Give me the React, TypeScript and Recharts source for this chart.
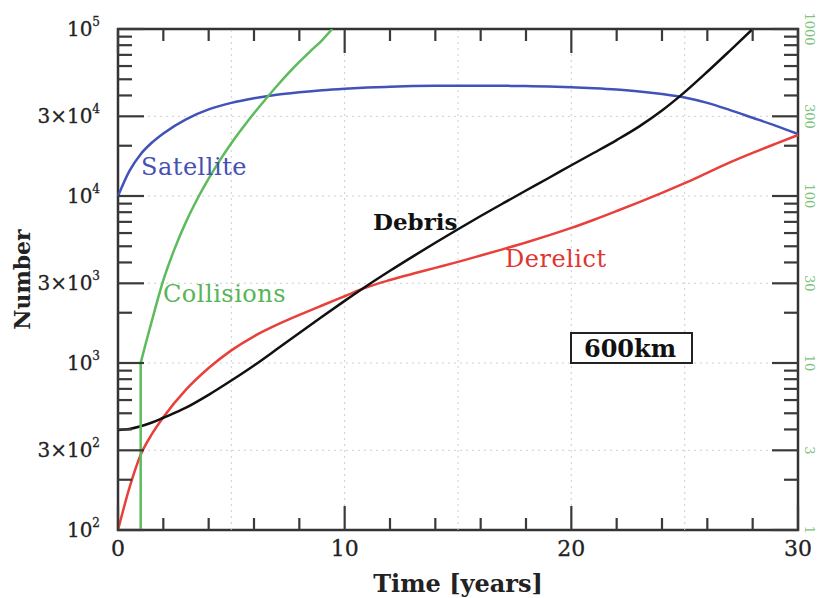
import React from 'react'
import { LineChart, Line, XAxis, YAxis, ReferenceLine, ReferenceArea } from 'recharts'

document.body.style.margin = '0'

const FONT = '"DejaVu Serif", serif'
const W = 817
const H = 598
const PLOT_W = 680
const PLOT_H = 501

// time in years
const YEARS = [0, 0.5, 1, 1.5, 2, 3, 4, 5, 6, 7, 8, 9, 10, 11, 12, 13, 14, 15, 16, 17, 18, 19, 20, 21, 22, 23, 24, 25, 26, 27, 28, 29, 30]
const SATELLITE = [10000, 14100, 17800, 20900, 23700, 28800, 33000, 36100, 38500, 40400, 41800, 43000, 43900, 44600, 45100, 45500, 45700, 45800, 45800, 45700, 45500, 45200, 44800, 44200, 43400, 42300, 40800, 38900, 36100, 32700, 29400, 26400, 23500]
const DERELICT = [100, 178, 282, 376, 473, 692, 933, 1190, 1445, 1690, 1940, 2210, 2510, 2850, 3140, 3420, 3710, 4030, 4400, 4810, 5270, 5810, 6440, 7210, 8130, 9200, 10450, 11940, 13770, 15890, 18110, 20510, 23170]
const DEBRIS_YEARS = [0, 0.5, 1, 1.5, 2, 3, 4, 5, 6, 7, 8, 9, 10, 11, 12, 13, 14, 15, 16, 17, 18, 19, 20, 21, 22, 23, 24, 25, 26, 27, 28]
const DEBRIS = [397, 403, 418, 440, 470, 540, 645, 785, 966, 1208, 1514, 1892, 2355, 2911, 3565, 4335, 5248, 6324, 7586, 9057, 10790, 12820, 15280, 18150, 21630, 26120, 32510, 41880, 55460, 74300, 100000]
// collisions, right-hand axis
const COLLISION_YEARS = [1, 1, 1.25, 1.5, 2, 2.5, 3, 3.5, 4, 4.5, 5, 5.5, 6, 6.5, 7, 7.5, 8, 8.5, 9, 9.45]
const COLLISIONS = [1, 10, 13.5, 18, 31.3, 48.4, 70, 96, 127, 164, 207, 256, 313, 378, 454, 540, 635, 739, 856, 1000]

const X_TICKS = [0, 2, 4, 6, 8, 10, 12, 14, 16, 18, 20, 22, 24, 26, 28, 30]
const X_GRID = [5, 10, 15, 20, 25]
const Y_GRID = [300, 1000, 3000, 10000, 30000]
const Y_TICKS = [100, 1000, 10000].flatMap((d) => [1, 2, 3, 4, 5, 6, 7, 8, 9].map((m) => m * d)).concat([100000])
const RIGHT_TICKS = [1, 3, 10, 30, 100, 300, 1000]

const rows = (xs: number[], ys: number[]) => xs.map((t, i) => ({ t, v: ys[i] }))

const satData = rows(YEARS, SATELLITE)
const derData = rows(YEARS, DERELICT)
const debData = rows(DEBRIS_YEARS, DEBRIS)
const collData = rows(COLLISION_YEARS, COLLISIONS)

const TICK_COLOR = '#3a3a3a'

function LeftTick({ x, y, payload }: any) {
  const v = payload.value
  const n = Math.floor(Math.log10(v) + 1e-9)
  const m = Math.round(v / Math.pow(10, n))
  const major = m === 1 || m === 3
  const len = major ? 26 : 14
  return (
    <g>
      <line x1={x} y1={y} x2={x + len} y2={y} stroke={TICK_COLOR} strokeWidth={2.2} />
      <line x1={x + PLOT_W} y1={y} x2={x + PLOT_W - len} y2={y} stroke={TICK_COLOR} strokeWidth={2.2} />
      {major && (
        <text x={x - 18} y={y + 7} textAnchor="end" fontFamily={FONT} fontSize={20} fill="#222" stroke="#222" strokeWidth={0.3}>
          <tspan>{m === 3 ? '3×10' : '10'}</tspan>
          <tspan dy={-10} fontSize={12}>{n}</tspan>
        </text>
      )}
    </g>
  )
}

function BottomTick({ x, y, payload }: any) {
  const v = payload.value
  const major = v % 10 === 0
  const len = major ? 24 : 12
  return (
    <g>
      <line x1={x} y1={y} x2={x} y2={y - len} stroke={TICK_COLOR} strokeWidth={2.2} />
      <line x1={x} y1={y - PLOT_H} x2={x} y2={y - PLOT_H + len} stroke={TICK_COLOR} strokeWidth={2.2} />
      {major && (
        <text x={x} y={y + 26} textAnchor="middle" fontFamily={FONT} fontSize={22} fill="#222" stroke="#222" strokeWidth={0.3}>
          {v}
        </text>
      )}
    </g>
  )
}

function RightTick({ x, y, payload }: any) {
  return (
    <text
      x={x + 11}
      y={y}
      transform={`rotate(90, ${x + 11}, ${y})`}
      textAnchor="middle"
      dominantBaseline="central"
      fontFamily={FONT}
      fontSize={13}
      fill="#7cc47c"
    >
      {payload.value}
    </text>
  )
}

export default function App() {
  return (
    <div style={{ position: 'relative', width: W, height: H, background: '#fff' }}>
      <LineChart width={W} height={H} margin={{ top: 29, right: 0, bottom: 0, left: 0 }}>
        <XAxis
          dataKey="t"
          type="number"
          domain={[0, 30]}
          ticks={X_TICKS}
          interval={0}
          height={68}
          axisLine={false}
          tickLine={false}
          tickSize={0}
          tickMargin={0}
          tick={<BottomTick />}
          label={{
            value: 'Time [years]',
            position: 'insideBottom',
            offset: 6,
            style: { fontFamily: FONT, fontWeight: 'bold', fontSize: 24, fill: '#222' },
          }}
        />
        <YAxis
          yAxisId="left"
          type="number"
          scale="log"
          domain={[100, 100000]}
          allowDataOverflow
          ticks={Y_TICKS}
          interval={0}
          width={118}
          axisLine={false}
          tickLine={false}
          tickSize={0}
          tickMargin={0}
          tick={<LeftTick />}
          label={{
            value: 'Number',
            angle: -90,
            position: 'insideLeft',
            offset: 22,
            style: { textAnchor: 'middle', fontFamily: FONT, fontWeight: 'bold', fontSize: 22, fill: '#222' },
          }}
        />
        <YAxis
          yAxisId="right"
          orientation="right"
          type="number"
          scale="log"
          domain={[1, 1000]}
          allowDataOverflow
          ticks={RIGHT_TICKS}
          interval={0}
          width={19}
          axisLine={false}
          tickLine={false}
          tickSize={0}
          tickMargin={0}
          tick={<RightTick />}
        />
        {X_GRID.map((g) => (
          <ReferenceLine key={'x' + g} x={g} yAxisId="left" stroke="#cfcfcf" strokeDasharray="2 4" />
        ))}
        {Y_GRID.map((g) => (
          <ReferenceLine key={'y' + g} y={g} yAxisId="left" stroke="#cfcfcf" strokeDasharray="2 4" />
        ))}
        <ReferenceArea x1={0} x2={30} y1={100} y2={100000} yAxisId="left" fill="none" stroke="#333" strokeWidth={2.5} />
        <Line data={satData} dataKey="v" yAxisId="left" type="monotone" stroke="#4152b8" strokeWidth={2.5} dot={false} isAnimationActive={false} />
        <Line data={derData} dataKey="v" yAxisId="left" type="monotone" stroke="#e8403a" strokeWidth={2.5} dot={false} isAnimationActive={false} />
        <Line data={debData} dataKey="v" yAxisId="left" type="monotone" stroke="#111" strokeWidth={2.5} dot={false} isAnimationActive={false} />
        <Line data={collData.slice(0, 2)} dataKey="v" yAxisId="right" type="linear" stroke="#5cbb5c" strokeWidth={2.5} dot={false} isAnimationActive={false} />
        <Line data={collData.slice(1)} dataKey="v" yAxisId="right" type="monotone" stroke="#5cbb5c" strokeWidth={2.5} dot={false} isAnimationActive={false} />
      </LineChart>
      <svg width={W} height={H} style={{ position: 'absolute', left: 0, top: 0, pointerEvents: 'none' }} fontFamily={FONT}>
        <text x={141} y={175} fontSize={24} letterSpacing={0.5} fill="#4650b4">Satellite</text>
        <text x={163} y={302} fontSize={24} letterSpacing={0.5} fill="#56b656">Collisions</text>
        <text x={373} y={230} fontSize={23} fontWeight="bold" fill="#111">Debris</text>
        <text x={505} y={267} fontSize={24} letterSpacing={0.5} fill="#e0352f">Derelict</text>
        <rect x={571} y={333} width={121} height={30} fill="#fff" stroke="#222" strokeWidth={2} />
        <text x={630} y={357} fontSize={24} fontWeight="bold" textAnchor="middle" fill="#111">600km</text>
      </svg>
    </div>
  )
}
